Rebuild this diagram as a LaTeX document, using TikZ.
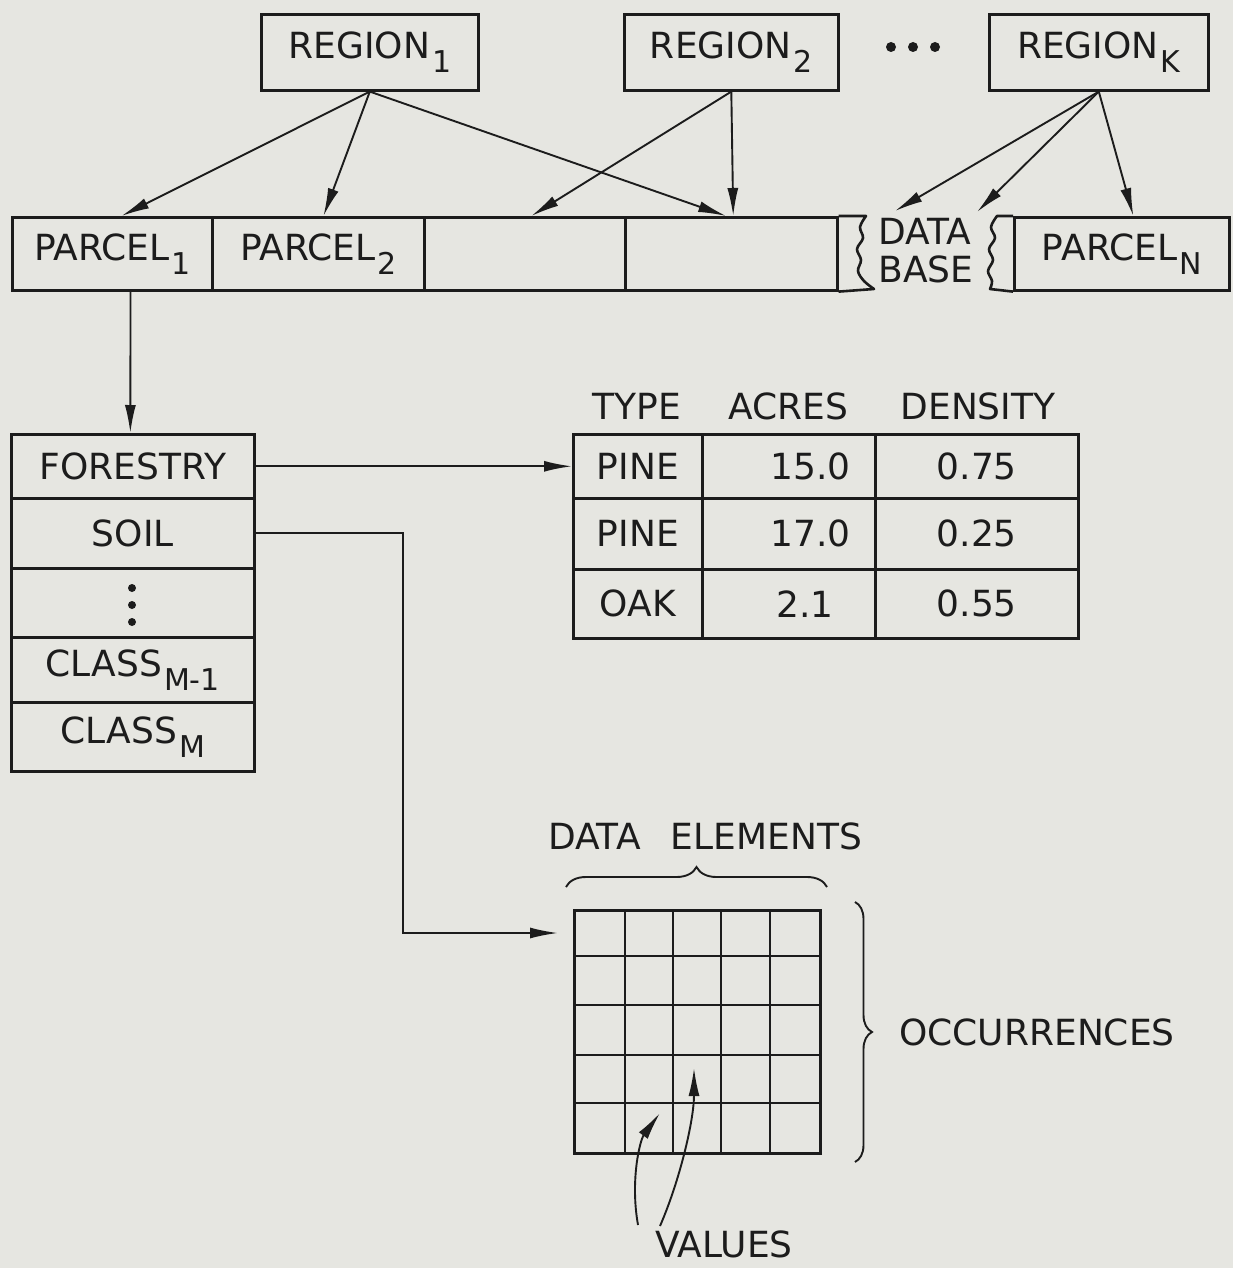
\documentclass[tikz,border=0pt]{standalone}
\usepackage{fontspec}
\setmainfont{DejaVu Sans}
\usetikzlibrary{arrows.meta,calc,decorations.pathreplacing}
\definecolor{paper}{RGB}{230,230,225}
\definecolor{ink}{RGB}{28,28,28}
\newcommand\sbx[1]{\kern2pt\raisebox{-14pt}{\fontsize{30}{30}\selectfont #1}}
\begin{document}
\begin{tikzpicture}[x=1pt,y=-1pt,
  every node/.style={font=\fontsize{36}{38}\selectfont, text=ink},
  box/.style={draw=ink, line width=2.6pt, inner sep=0pt, anchor=north west},
  frame/.style={draw=ink, line width=2.6pt},
  arr/.style={draw=ink, line width=1.9pt, -{Latex[length=28pt,width=11pt]}},
  thinline/.style={draw=ink, line width=1.9pt},
  dotn/.style={circle, fill=ink, inner sep=0pt, minimum size=10pt},
  lbl/.style={inner sep=0pt}
]
\fill[paper] (0,0) rectangle (1233,1268);
\useasboundingbox (0,0) rectangle (1233,1268);

% regions
\node[box, minimum width=217pt, minimum height=76pt] (r1) at (260,13) {REGION\sbx{1}};
\node[box, minimum width=214pt, minimum height=76pt] (r2) at (623,13) {REGION\sbx{2}};
\node[box, minimum width=219pt, minimum height=76pt] (rk) at (988,13) {REGION\sbx{K}};
\node[dotn] (dot1) at (891,47) {};
\node[dotn] (dot2) at (913,47) {};
\node[dotn] (dot3) at (935,47) {};

% parcels
\node[box, minimum width=200pt, minimum height=73pt] (p1) at (11,216) {PARCEL\sbx{1}};
\node[box, minimum width=212pt, minimum height=73pt] (p2) at (211,216) {PARCEL\sbx{2}};
\node[box, minimum width=201pt, minimum height=73pt] (p3) at (423,216) {};
\node[box, minimum width=212pt, minimum height=73pt] (p4) at (624,216) {};
\node[box, minimum width=215pt, minimum height=73pt] (pn) at (1013,216) {PARCEL\sbx{N}};
\draw[frame, line join=round] (p4.north east) -- plot[smooth, tension=0.6] coordinates {(866,216) (860,227) (863,238) (857,249) (861,260) (858,271) (864,281) (874,289)} -- (p4.south east);
\draw[frame, line join=round] (pn.north west) -- plot[smooth, tension=0.6] coordinates {(997,216) (991,227) (995,238) (989,249) (993,260) (988,271) (992,281) (990,289)} -- (pn.south west);
\node[lbl, align=left, font=\fontsize{36}{38}\selectfont] (db) at (926,251) {DATA\\BASE};

% region arrows
\draw[arr] (r1.south) -- ($(p1.north west)!0.545!(p1.north east)$);
\draw[arr] (r1.south) -- ($(p2.north west)!0.524!(p2.north east)$);
\draw[arr] (r1.south) -- ($(p4.north west)!0.476!(p4.north east)$);
\draw[arr] (r2.south) -- ($(p3.north west)!0.532!(p3.north east)$);
\draw[arr] (r2.south) -- ($(p4.north west)!0.509!(p4.north east)$);
\coordinate (dbA) at (895,211);
\coordinate (dbB) at (977,212);
\draw[arr] (rk.south) -- (dbA);
\draw[arr] (rk.south) -- (dbB);
\draw[arr] (rk.south) -- ($(pn.north west)!0.553!(pn.north east)$);

% class list
\node[box, minimum width=243pt, minimum height=64pt] (f) at (10,433) {FORESTRY};
\node[box, minimum width=243pt, minimum height=70pt] (s) at (10,497) {SOIL};
\node[box, minimum width=243pt, minimum height=69pt] (dd) at (10,567) {};
\node[box, minimum width=243pt, minimum height=65pt] (c1) at (10,636) {CLASS\sbx{M-1}};
\node[box, minimum width=243pt, minimum height=69pt] (c2) at (10,701) {CLASS\sbx{M}};
\node[dotn, minimum size=8pt] (vd1) at (132,588) {};
\node[dotn, minimum size=8pt] (vd2) at (132,605) {};
\node[dotn, minimum size=8pt] (vd3) at (132,622) {};

\draw[arr] ($(p1.south west)!0.59!(p1.south east)$) -- ($(f.north west)!0.49!(f.north east)$);

% table
\node[lbl] (hType) at (637,406) {TYPE};
\node[lbl] (hAcres) at (788,406) {ACRES};
\node[lbl] (hDens) at (978,406) {DENSITY};
\node[box, minimum width=129pt, minimum height=64pt] (t11) at (572,433) {PINE};
\node[box, minimum width=173pt, minimum height=64pt] (t12) at (701,433) {};
\node[box, minimum width=203pt, minimum height=64pt] (t13) at (874,433) {0.75};
\node[box, minimum width=129pt, minimum height=71pt] (t21) at (572,497) {PINE};
\node[box, minimum width=173pt, minimum height=71pt] (t22) at (701,497) {};
\node[box, minimum width=203pt, minimum height=71pt] (t23) at (874,497) {0.25};
\node[box, minimum width=129pt, minimum height=69pt] (t31) at (572,568) {OAK};
\node[box, minimum width=173pt, minimum height=69pt] (t32) at (701,568) {};
\node[box, minimum width=203pt, minimum height=69pt] (t33) at (874,568) {0.55};
\node[lbl] (v12) at ($(t12.center)+(22,0)$) {15.0};
\node[lbl] (v22) at ($(t22.center)+(22,0)$) {17.0};
\node[lbl] (v32) at ($(t32.center)+(16,0)$) {2.1};

\draw[arr] (f.east) -- (t11.west);

% grid
\node[box, minimum width=246pt, minimum height=243pt] (g) at (573,909) {};
\foreach \x in {625,673,721,770} \draw[frame] (\x,909) -- (\x,1152);
\foreach \y in {956,1005,1055,1103} \draw[frame] (573,\y) -- (819,\y);

\coordinate (bend) at (403,0);
\draw[arr] (s.east) -- (s.east -| bend) |- ($(g.north west)+(-15,24)$);

\draw[thinline, decorate, decoration={brace, amplitude=20pt}] (566,887) -- (827,887);
\draw[thinline, decorate, decoration={brace, amplitude=17pt}] (855,902) -- (855,1162);
\node[lbl] (de) at (705,836) {DATA\hspace{30pt}ELEMENTS};
\node[lbl] (occ) at (1037,1032) {OCCURRENCES};
\node[lbl] (val) at (724,1244) {VALUES};

\coordinate (v1s) at (638,1225);
\coordinate (v1e) at (660,1113);
\coordinate (v2s) at (660,1226);
\coordinate (v2e) at (694,1068);
\draw[arr] (v1s) .. controls (630,1180) and (640,1140) .. (v1e);
\draw[arr] (v2s) .. controls (680,1180) and (694,1120) .. (v2e);
\end{tikzpicture}
\end{document}
